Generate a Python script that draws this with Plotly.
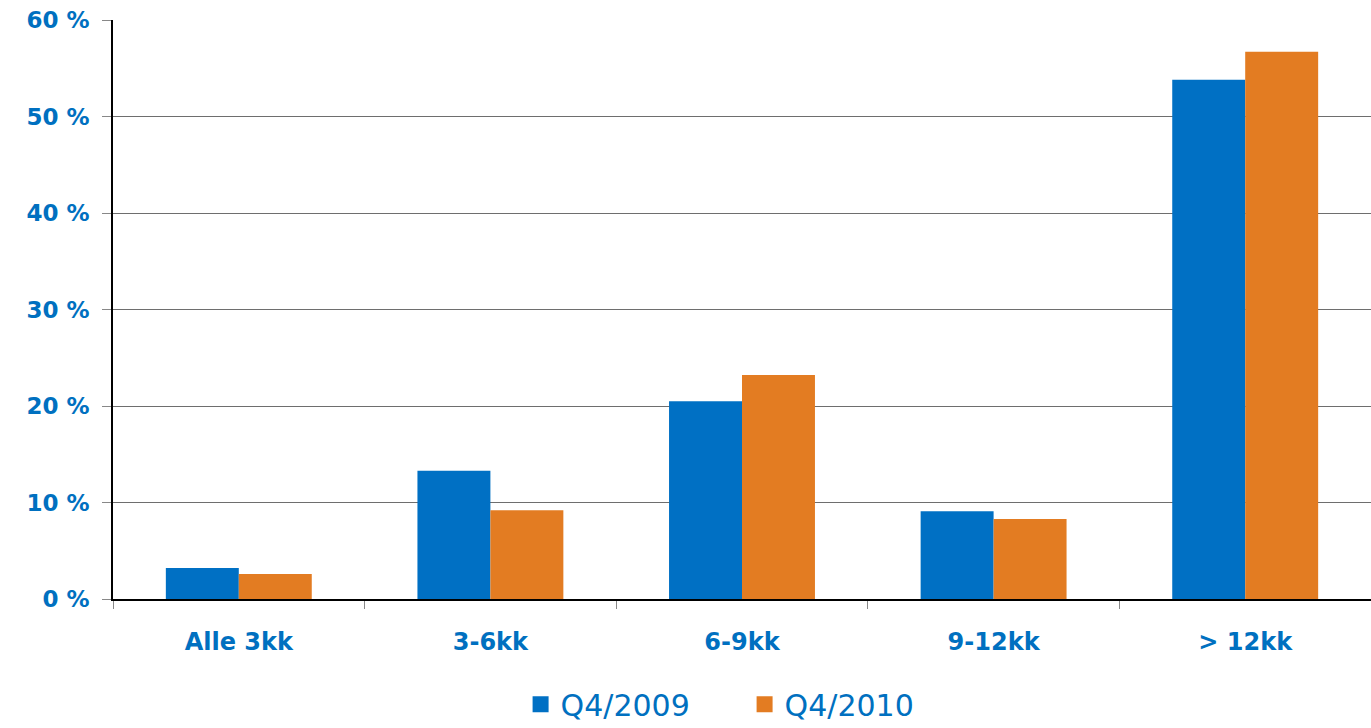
import plotly.graph_objects as go

categories = ["Alle 3kk", "3-6kk", "6-9kk", "9-12kk", "> 12kk"]
q4_2009 = [3.2, 13.3, 20.5, 9.1, 53.8]
q4_2010 = [2.6, 9.2, 23.2, 8.3, 56.7]
series_names = ["Q4/2009", "Q4/2010"]
y_ticks = [0, 10, 20, 30, 40, 50, 60]
y_tick_labels = ["0 %", "10 %", "20 %", "30 %", "40 %", "50 %", "60 %"]

BLUE = "#0070C4"
ORANGE = "#E37C22"
TEXT = "#0070C0"
FONT = "DejaVu Sans, Verdana, sans-serif"

fig = go.Figure()
for vals, name, col in [(q4_2009, series_names[0], BLUE), (q4_2010, series_names[1], ORANGE)]:
    fig.add_trace(go.Bar(x=categories, y=vals, name=name, showlegend=False,
                         marker=dict(color=col, line=dict(width=0))))
    # legend entry with a larger square swatch
    fig.add_trace(go.Scatter(x=[None], y=[None], mode="markers", name=name,
                             marker=dict(symbol="square", size=16, color=col)))

fig.update_layout(
    width=1371, height=728,
    margin=dict(l=113, r=0, t=20, b=129, autoexpand=False),
    paper_bgcolor="white", plot_bgcolor="white",
    barmode="group", bargap=0.42, bargroupgap=0,
    showlegend=True,
    legend=dict(orientation="h", x=0.324, xanchor="left", y=-0.137, yanchor="top",
                font=dict(family=FONT, size=30, color=TEXT),
                entrywidth=179, entrywidthmode="pixels", itemwidth=30,
                bgcolor="rgba(0,0,0,0)"),
    xaxis=dict(
        automargin=False,
        showline=True, linecolor="black", linewidth=1.5,
        ticks="outside", tickson="boundaries", ticklen=8, tickcolor="#888888",
        tickfont=dict(family=FONT, size=24, color=TEXT, weight="bold"),
        ticklabelstandoff=20,
        showgrid=False,
    ),
    yaxis=dict(
        automargin=False,
        range=[0, 60], tickvals=y_ticks, ticktext=y_tick_labels,
        showline=True, linecolor="black", linewidth=1.5,
        ticks="outside", ticklen=9, tickcolor="#888888",
        tickfont=dict(family=FONT, size=23, color=TEXT, weight="bold"),
        ticklabelstandoff=8,
        showgrid=True, gridcolor="#6e6e6e", gridwidth=1,
        zeroline=False,
    ),
)

fig.write_html("out.html")
